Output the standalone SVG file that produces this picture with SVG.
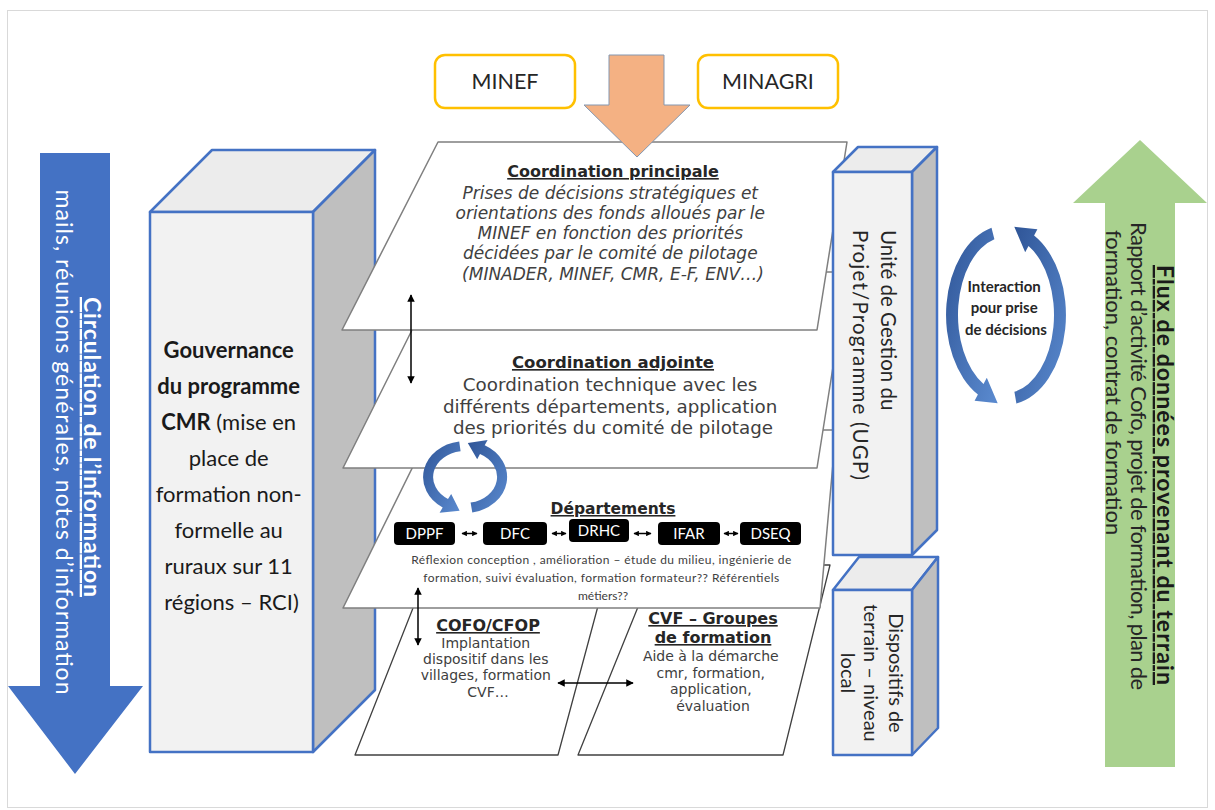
<svg xmlns="http://www.w3.org/2000/svg" width="1215" height="810" viewBox="0 0 1215 810">
<defs>
<linearGradient id="bl" x1="0" y1="0" x2="1" y2="1"><stop offset="0" stop-color="#2f5597"/><stop offset="1" stop-color="#5b8bd0"/></linearGradient>
<marker id="ah" viewBox="0 0 10 10" refX="9" refY="5" markerWidth="5" markerHeight="5" orient="auto-start-reverse"><path d="M0,0 L10,5 L0,10 Z" fill="#000"/></marker>
<marker id="ahs" viewBox="0 0 10 10" refX="9" refY="5" markerWidth="3.6" markerHeight="3.6" orient="auto-start-reverse"><path d="M0,0 L10,5 L0,10 Z" fill="#000"/></marker>
<style>
.dv{font-family:"DejaVu Sans",Verdana,sans-serif}
.la{font-family:Lato,"Open Sans",sans-serif}
.ttl{font-weight:bold;text-decoration:underline;fill:#262626}
.body{fill:#404040}
.para{fill:#fff;stroke:#7f7f7f;stroke-width:1.5;stroke-linejoin:round}
.para2{fill:#fff;stroke:#404040;stroke-width:1.3;stroke-linejoin:round}
.box3{stroke:#4472c4;stroke-width:2.5;stroke-linejoin:round}
.front{fill:#f2f2f2}
.top{fill:#ececec}
.side{fill:#bfbfbf}
.dbl{stroke:#000;stroke-width:1.5;fill:none;marker-start:url(#ah);marker-end:url(#ah)}
.sdbl{stroke:#000;stroke-width:1.5;fill:none;marker-start:url(#ahs);marker-end:url(#ahs)}
.dept{fill:#000}
.deptt{fill:#fff;font-size:15px;text-anchor:middle}
.mid{text-anchor:middle}
</style>
</defs>
<rect x="0" y="0" width="1215" height="810" fill="#fff"/>
<rect x="7.5" y="10.5" width="1200" height="797" fill="none" stroke="#d9d9d9" stroke-width="1"/>

<g id="circulation-arrow">
<path d="M40,153 H110 V686 H143 L75,774 L8,686 H40 Z" fill="#4472c4"/>
<text class="la" transform="translate(84,447) rotate(90)" text-anchor="middle" font-size="23" font-weight="bold" fill="#fff" text-decoration="underline" textLength="300">Circulation de l’information</text>
<text class="la" transform="translate(56,442) rotate(90)" text-anchor="middle" font-size="23" fill="#fff" textLength="505">mails, réunions générales, notes d’information</text>
</g>

<g id="gouvernance">
<polygon class="box3 top" points="150,212 212,150 375,150 313,212"/>
<polygon class="box3 side" points="313,212 375,150 375,690 313,752"/>
<rect class="box3 front" x="150" y="212" width="163" height="540"/>
<text class="la mid" x="231.5" font-size="22" fill="#1a1a1a">
<tspan x="231.5" y="358" font-weight="bold">Gouvernance</tspan>
<tspan x="231.5" y="394" font-weight="bold">du programme</tspan>
<tspan x="231.5" y="430"><tspan font-weight="bold">CMR</tspan> (mise en</tspan>
<tspan x="231.5" y="466">place de</tspan>
<tspan x="231.5" y="502">formation non-</tspan>
<tspan x="231.5" y="538">formelle au</tspan>
<tspan x="231.5" y="574">ruraux sur 11</tspan>
<tspan x="231.5" y="610">régions – RCI)</tspan>
</text>
</g>

<g id="cofo">
<polygon class="para2" points="430,565 609,565 558,755 355,755"/>
<text class="dv ttl mid" x="488" y="631" font-size="16">COFO/CFOP</text>
<text class="dv body mid" font-size="14">
<tspan x="488" y="648">Implantation</tspan>
<tspan x="488" y="664">dispositif dans les</tspan>
<tspan x="488" y="680">villages, formation</tspan>
<tspan x="488" y="697">CVF…</tspan>
</text>
</g>

<g id="cvf">
<polygon class="para2" points="655,565 830,565 783,755 578,755"/>
<text class="dv ttl mid" font-size="16"><tspan x="713" y="624">CVF – Groupes</tspan><tspan x="713" y="643">de formation</tspan></text>
<text class="dv body mid" font-size="14">
<tspan x="713" y="661">Aide à la démarche</tspan>
<tspan x="713" y="678">cmr, formation,</tspan>
<tspan x="713" y="694">application,</tspan>
<tspan x="713" y="711">évaluation</tspan>
</text>
</g>

<g id="departements">
<polygon class="para" points="431,430 836,430 820,608 343,608"/>
<text class="dv ttl mid" x="613" y="514" font-size="15.5">Départements</text>
<rect class="dept" x="394" y="522" width="61" height="23" rx="4"/>
<text class="la deptt" x="424.5" y="539">DPPF</text>
<rect class="dept" x="483" y="522" width="64" height="23" rx="4"/>
<text class="la deptt" x="515" y="539">DFC</text>
<rect class="dept" x="569" y="519" width="60" height="23" rx="4"/>
<text class="la deptt" x="599" y="536">DRHC</text>
<rect class="dept" x="658" y="522" width="62" height="23" rx="4"/>
<text class="la deptt" x="689" y="539">IFAR</text>
<rect class="dept" x="740" y="522" width="61" height="23" rx="4"/>
<text class="la deptt" x="770.5" y="539">DSEQ</text>
<text class="la body mid" font-size="12">
<tspan x="603" y="564" textLength="380">Réflexion conception , amélioration – étude du milieu, ingénierie de</tspan>
<tspan x="603" y="582" textLength="356">formation, suivi évaluation, formation formateur?? Référentiels</tspan>
<tspan x="603" y="600">métiers??</tspan>
</text>
</g>

<g id="coordination-adjointe">
<polygon class="para" points="441,272 848,272 817,468 343,468"/>
<text class="dv ttl mid" x="613" y="368" font-size="16.5">Coordination adjointe</text>
<text class="dv body mid" font-size="18.3">
<tspan x="613" y="391">Coordination technique avec les</tspan>
<tspan x="613" y="413">différents départements, application</tspan>
<tspan x="613" y="434">des priorités du comité de pilotage</tspan>
</text>
</g>

<g id="coordination-principale">
<polygon class="para" points="438,142 847,142 817,330 342,330"/>
<text class="dv ttl mid" x="613" y="177" font-size="16">Coordination principale</text>
<text class="dv body mid" font-size="17" font-style="italic">
<tspan x="613" y="199">Prises de décisions stratégiques et</tspan>
<tspan x="613" y="219">orientations des fonds alloués par le</tspan>
<tspan x="613" y="239">MINEF en fonction des priorités</tspan>
<tspan x="613" y="259">décidées par le comité de pilotage</tspan>
<tspan x="613" y="280">(MINADER, MINEF, CMR, E-F, ENV…)</tspan>
</text>
</g>

<g id="ugp">
<polygon class="box3 top" points="833,172 858,147 937,147 912,172"/>
<polygon class="box3 side" points="912,172 937,147 937,530 912,555"/>
<rect class="box3 front" x="833" y="172" width="79" height="383"/>
<text class="la" transform="translate(881,230) rotate(90)" font-size="20.5" fill="#262626">Unité de Gestion du</text>
<text class="la" transform="translate(853,230) rotate(90)" font-size="20.5" fill="#262626" textLength="250">Projet/Programme (UGP)</text>
</g>

<g id="dispositifs">
<polygon class="box3 top" points="833,590 859,557 938,557 912,590"/>
<polygon class="box3 side" points="912,590 938,557 938,728 912,755"/>
<rect class="box3 front" x="833" y="590" width="79" height="165"/>
<text class="la mid" transform="translate(889,673) rotate(90)" font-size="20" fill="#262626">Dispositifs de</text>
<text class="la mid" transform="translate(864,673) rotate(90)" font-size="20" fill="#262626">terrain – niveau</text>
<text class="la mid" transform="translate(841,673) rotate(90)" font-size="20" fill="#262626">local</text>
</g>

<g id="minef">
<rect x="435" y="55" width="140" height="53" rx="10" fill="#fff" stroke="#ffc000" stroke-width="2.5"/>
<text class="la mid" x="505" y="89" font-size="21.5" fill="#262626">MINEF</text>
</g>
<g id="minagri">
<rect x="698" y="55" width="140" height="53" rx="10" fill="#fff" stroke="#ffc000" stroke-width="2.5"/>
<text class="la mid" x="768" y="89" font-size="21.5" fill="#262626">MINAGRI</text>
</g>

<g id="interaction">
<path d="M991.5,227.7 A60,90 0 0 0 977.9,394.5 L974.6,400.7 L997.7,403.2 L986.8,377.7 L983.5,383.9 A48,78 0 0 1 994.4,239.3 Z" fill="url(#bl)"/>
<path d="M1016.4,403.6 A60,90 0 0 0 1034.1,235.5 L1037.4,229.3 L1014.3,226.8 L1025.2,252.3 L1028.5,246.1 A48,78 0 0 1 1014.4,391.8 Z" fill="url(#bl)"/>
<text class="la mid" font-size="15" font-weight="bold" fill="#262626">
<tspan x="1006" y="292">Interaction</tspan>
<tspan x="1006" y="313">pour prise</tspan>
<tspan x="1006" y="335">de décisions</tspan>
</text>
</g>

<g id="flux-arrow">
<path d="M1140,140 L1207,203 H1175 V767 H1105 V203 H1073 Z" fill="#a9d18e"/>
<text class="la" transform="translate(1157,265) rotate(90)" font-size="23" font-weight="bold" fill="#1a1a1a" text-decoration="underline" textLength="420">Flux de données provenant du terrain</text>
<text class="la" transform="translate(1131,222) rotate(90)" font-size="22" fill="#262626" textLength="468">Rapport d’activité Cofo, projet de formation, plan de</text>
<text class="la" transform="translate(1106,230) rotate(90)" font-size="22" fill="#262626">formation, contrat de formation</text>
</g>

<g id="connectors">
<path d="M609,55 H664 V105 H690 L637,157 L584,105 H609 Z" fill="#f4b183" stroke="#8497b0" stroke-width="1"/>
<path d="M459.2,441.4 A42,36 0 0 0 442.7,507.5 L439.6,512.7 L459.6,510.7 L451.2,493.9 L448,499 A32,26 0 0 1 460.6,451.3 Z" fill="url(#bl)"/>
<path d="M472.3,512.5 A42,36 0 0 0 484.7,445.2 L487.6,439.9 L467.8,443.1 L477.2,459.3 L480,454 A32,26 0 0 1 470.6,502.6 Z" fill="url(#bl)"/>
<line class="dbl" x1="411" y1="295" x2="411" y2="383"/>
<line class="dbl" x1="418" y1="588" x2="418" y2="645"/>
<line class="dbl" x1="558" y1="683" x2="633" y2="683"/>
<line class="sdbl" x1="462" y1="533.5" x2="477" y2="533.5"/>
<line class="sdbl" x1="552" y1="533.5" x2="566" y2="533.5"/>
<line class="sdbl" x1="634" y1="533.5" x2="651" y2="533.5"/>
<line class="sdbl" x1="724" y1="533.5" x2="738" y2="533.5"/>
</g>
</svg>
